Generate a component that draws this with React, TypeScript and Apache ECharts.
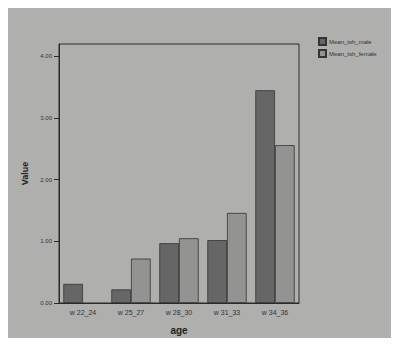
import React, { useEffect, useRef } from "react";
import * as echarts from "echarts";

const categories = ["w 22_24", "w 25_27", "w 28_30", "w 31_33", "w 34_36"];
const maleValues = [0.31, 0.22, 0.97, 1.02, 3.45];
const femaleValues = [0, 0.72, 1.05, 1.46, 2.56];
const seriesNames = ["Mean_tsh_male", "Mean_tsh_female"];

export default function App() {
  const ref = useRef<HTMLDivElement>(null);
  useEffect(() => {
    if (!ref.current) return;
    const chart = echarts.init(ref.current, undefined, { renderer: "svg" });
    chart.setOption({
      animation: false,
      backgroundColor: "#afafad",
      textStyle: { fontFamily: "Liberation Sans, Arial, sans-serif" },
      legend: {
        orient: "vertical",
        left: 313,
        top: 32,
        itemWidth: 7,
        itemHeight: 7,
        itemGap: 3,
        icon: "rect",
        textStyle: { fontSize: 6, color: "#333", padding: [0, 0, 0, -2] },
        data: seriesNames,
      },
      grid: {
        left: 59,
        right: 100,
        top: 44,
        bottom: 43,
        show: true,
        borderColor: "#2a2a2a",
        borderWidth: 1,
        backgroundColor: "transparent",
      },
      xAxis: {
        type: "category",
        data: categories,
        name: "age",
        nameLocation: "middle",
        nameGap: 22,
        nameTextStyle: { fontSize: 10, color: "#222", fontWeight: "bold" },
        axisLine: { lineStyle: { color: "#2a2a2a" } },
        axisTick: { alignWithLabel: true, length: 5, lineStyle: { color: "#2a2a2a" } },
        axisLabel: { fontSize: 7, color: "#333", margin: 6 },
      },
      yAxis: {
        type: "value",
        min: 0,
        max: 4.2,
        interval: 1,
        name: "Value",
        nameLocation: "middle",
        nameGap: 30,
        nameTextStyle: { fontSize: 9, color: "#222", fontWeight: "bold" },
        axisLine: { show: true, lineStyle: { color: "#2a2a2a" } },
        axisTick: { show: true, length: 5, lineStyle: { color: "#2a2a2a" } },
        splitLine: { show: false },
        axisLabel: {
          fontSize: 6,
          color: "#333",
          margin: 7,
          showMaxLabel: false,
          formatter: (v: number) => (Math.abs(v - Math.round(v)) < 1e-9 ? v.toFixed(2) : ""),
        },
      },
      series: [
        {
          name: seriesNames[0],
          type: "bar",
          data: maleValues,
          barGap: "0%",
          barCategoryGap: "18%",
          itemStyle: { color: "#666666", borderColor: "#333", borderWidth: 0.8 },
        },
        {
          name: seriesNames[1],
          type: "bar",
          data: femaleValues.map((v) =>
            v === 0 ? { value: v, itemStyle: { borderWidth: 0 } } : v
          ),
          itemStyle: { color: "#939392", borderColor: "#333", borderWidth: 0.8 },
        },
      ],
    });
    return () => chart.dispose();
  }, []);
  return <div ref={ref} style={{ width: 399, height: 346, margin: -8 }} />;
}
